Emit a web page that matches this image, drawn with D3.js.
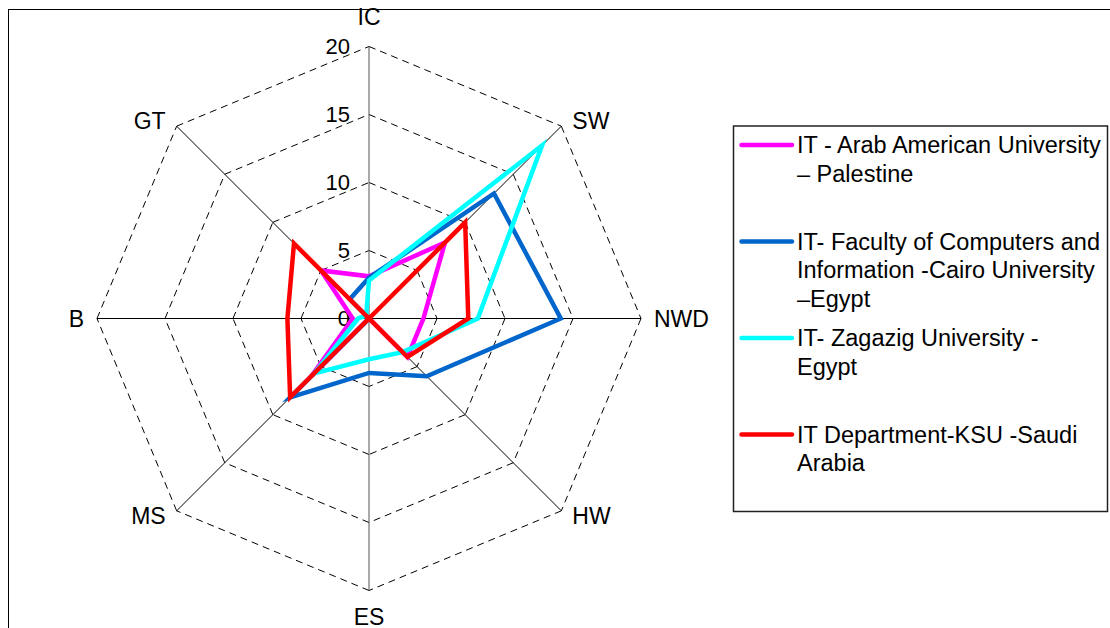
<!DOCTYPE html>
<html>
<head>
<meta charset="utf-8">
<script src="https://cdn.jsdelivr.net/npm/d3@7"></script>
<style>
  html, body { margin: 0; padding: 0; background: #fff; }
  svg { display: block; }
  text { font-family: "Liberation Sans", Arial, sans-serif; fill: #000; }
</style>
</head>
<body>
<svg id="chart" width="1110" height="628"></svg>
<script>
// Radar axes (clockwise from the top) and value ticks
const axes = ["IC", "SW", "NWD", "HW", "ES", "MS", "B", "GT"];
const tickValues = [0, 5, 10, 15, 20];

// One value per axis for each department
const aauValues     = [3.1, 7.9, 4, 4, 0, 6, 1.2, 5];
const cairoValues   = [3, 13, 14.1, 6, 4, 8.2, 0, 2];
const zagazigValues = [2.8, 18, 8, 3.5, 3, 5.7, 0.8, 0.3];
const ksuValues     = [0, 10, 7.3, 4, 0, 8.2, 6, 7.8];

// Legend entries, split the way they wrap in the legend box
const seriesNames = [
  ["IT - Arab American University", "\u2013 Palestine"],
  ["IT- Faculty of Computers and", "Information -Cairo University", "\u2013Egypt"],
  ["IT- Zagazig University -", "Egypt"],
  ["IT Department-KSU -Saudi", "Arabia"]
];
const seriesColors = ["#FF00FF", "#0066CC", "#00FFFF", "#FF0000"];
const seriesValues = [aauValues, cairoValues, zagazigValues, ksuValues];

const svg = d3.select("#chart");
const cx = 369, cy = 318.5;
const r = d3.scaleLinear().domain([0, 20]).range([0, 272]);
const angle = i => i * 2 * Math.PI / axes.length;
const px = (i, v) => cx + r(v) * Math.sin(angle(i));
const py = (i, v) => cy - r(v) * Math.cos(angle(i));

// Chart area frame
svg.append("rect")
  .attr("x", 8.5).attr("y", 9.5)
  .attr("width", 1130).attr("height", 640)
  .attr("fill", "none").attr("stroke", "#000").attr("stroke-width", 1);

const plot = svg.append("g");

// Dashed grid rings, each edge dashed from its own vertex
tickValues.filter(t => t > 0).forEach(t => {
  axes.forEach((a, i) => {
    const j = (i + 1) % axes.length;
    plot.append("line")
      .attr("x1", px(i, t)).attr("y1", py(i, t))
      .attr("x2", px(j, t)).attr("y2", py(j, t))
      .attr("stroke", "#000").attr("stroke-width", 1)
      .attr("stroke-dasharray", "7,5");
  });
});

// Spokes
axes.forEach((a, i) => {
  plot.append("line")
    .attr("x1", cx).attr("y1", cy)
    .attr("x2", px(i, 20)).attr("y2", py(i, 20))
    .attr("stroke", i === 0 || i === 4 ? "#555" : "#000")
    .attr("stroke-width", 1);
});

// Value tick labels along the IC spoke
plot.selectAll("text.tick")
  .data(tickValues)
  .join("text")
  .attr("class", "tick")
  .attr("x", cx - 19)
  .attr("y", d => py(0, d) + 7.5)
  .attr("text-anchor", "end")
  .attr("font-size", 22)
  .text(d => d);

// Axis category labels
axes.forEach((a, i) => {
  const s = Math.sin(angle(i)), c = Math.cos(angle(i));
  const ex = px(i, 20), ey = py(i, 20);
  let x, y, anchor;
  if (Math.abs(s) < 0.1) {
    anchor = "middle";
    x = ex;
    y = c > 0 ? ey - 22 : ey + 34;
  } else {
    anchor = s > 0 ? "start" : "end";
    x = ex + (s > 0 ? 1 : -1) * (Math.abs(c) < 0.1 ? 13 : 11);
    y = ey + 8 - 7 * c;
  }
  plot.append("text")
    .attr("x", x).attr("y", y)
    .attr("text-anchor", anchor)
    .attr("font-size", 23)
    .text(a);
});

// Series polygons
const radial = d3.lineRadial()
  .angle((d, i) => angle(i))
  .radius(d => r(d))
  .curve(d3.curveLinearClosed);

const series = plot.append("g").attr("transform", `translate(${cx},${cy})`);
seriesValues.forEach((vals, k) => {
  series.append("path")
    .attr("d", radial(vals))
    .attr("fill", "none")
    .attr("stroke", seriesColors[k])
    .attr("stroke-width", 4.5)
    .attr("stroke-linejoin", "miter")
    .attr("stroke-miterlimit", 10);
});

// Legend
const legend = svg.append("g");
legend.append("rect")
  .attr("x", 733.5).attr("y", 126)
  .attr("width", 374).attr("height", 385.5)
  .attr("fill", "#fff").attr("stroke", "#222").attr("stroke-width", 1.5);

const entryY = [145, 241.5, 338, 434.5];
seriesNames.forEach((lines, k) => {
  legend.append("line")
    .attr("x1", 741.5).attr("x2", 792)
    .attr("y1", entryY[k]).attr("y2", entryY[k])
    .attr("stroke", seriesColors[k])
    .attr("stroke-width", 4.5)
    .attr("stroke-linecap", "round");
  const t = legend.append("text")
    .attr("x", 797).attr("y", entryY[k] + 8.3)
    .attr("font-size", 23.5);
  lines.forEach((ln, m) => {
    t.append("tspan")
      .attr("x", 797)
      .attr("dy", m === 0 ? 0 : 28.5)
      .text(ln);
  });
});
</script>
</body>
</html>
